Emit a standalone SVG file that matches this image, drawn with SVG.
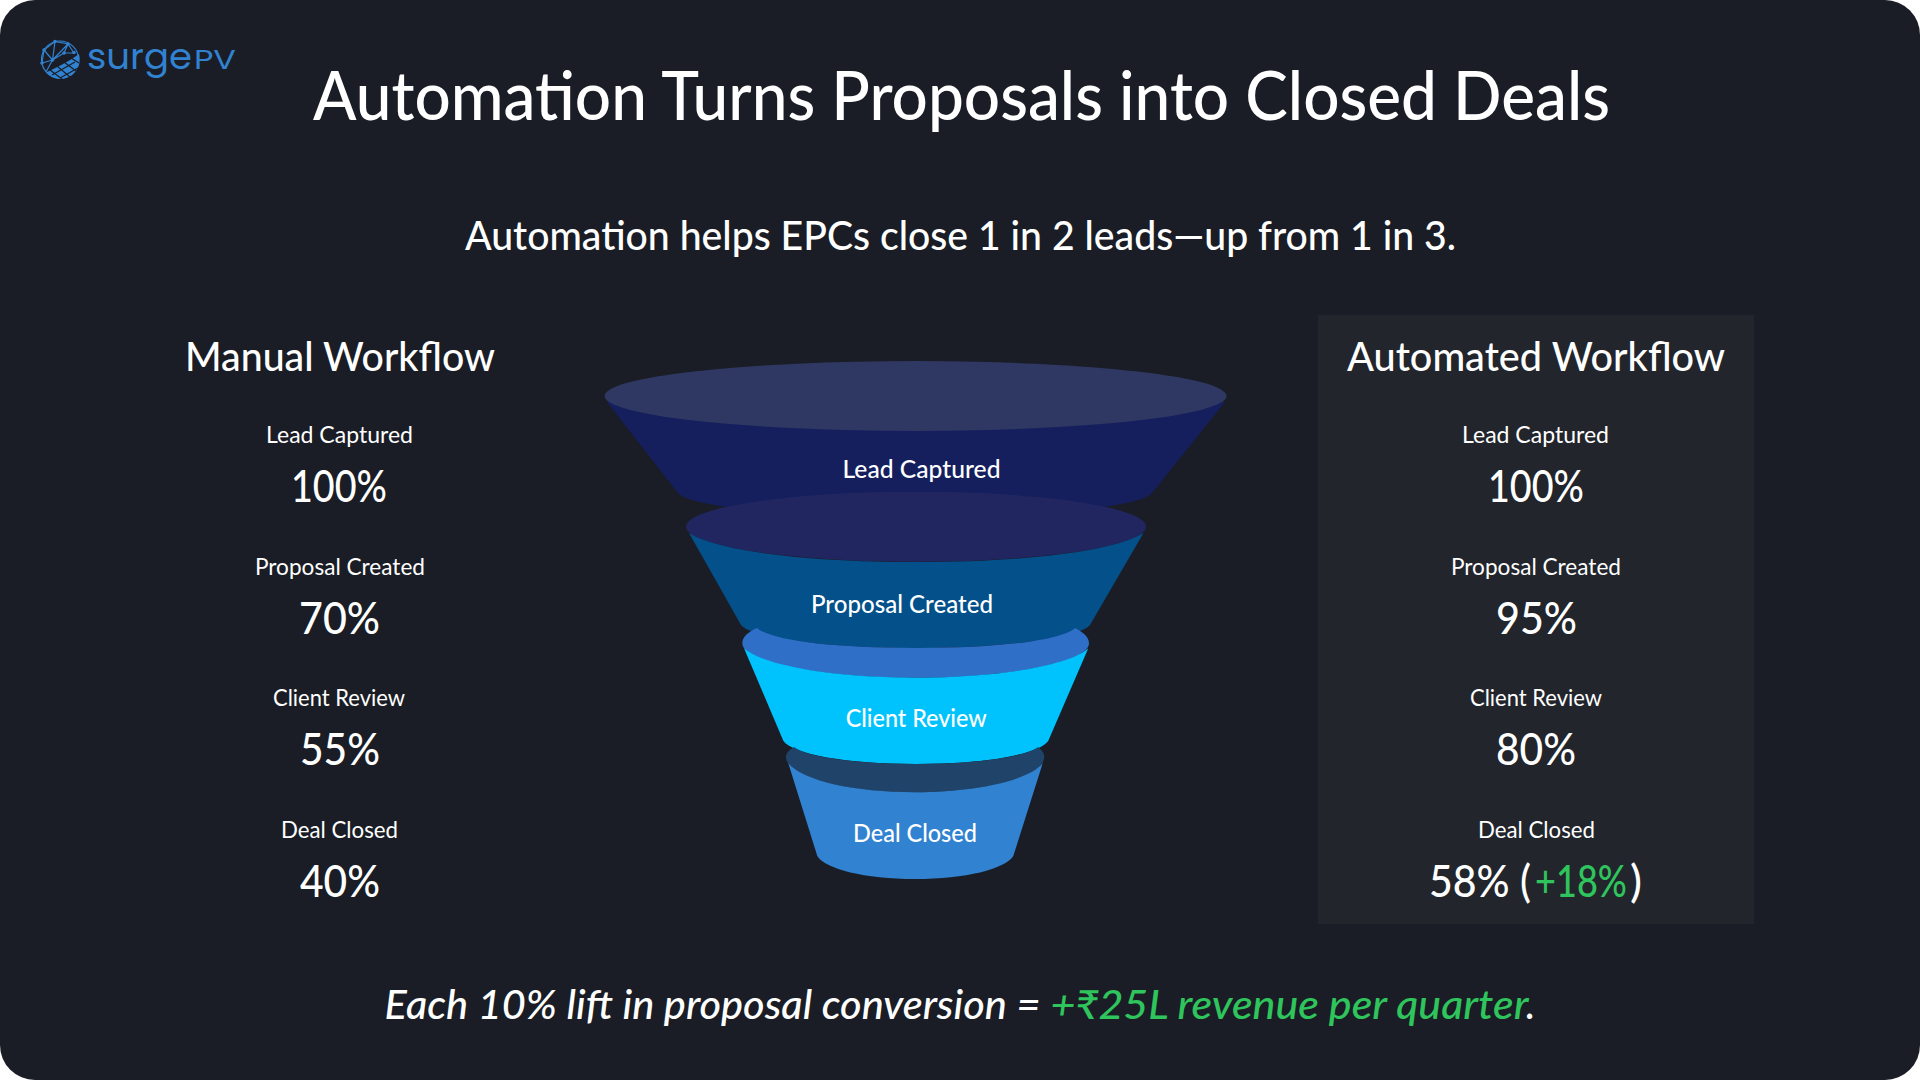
<svg xmlns="http://www.w3.org/2000/svg" width="1920" height="1080" viewBox="0 0 1920 1080">
<style>
text{font-family:"Lato","Liberation Sans",sans-serif;fill:#fff;text-anchor:start}
.title{font-size:68px;font-weight:500}
.sub{font-size:40px;font-weight:500}
.head{font-size:40px;font-weight:500}
.lab{font-size:23px}
.val{font-size:44px;font-weight:500}
.fl{font-size:24px;font-weight:500}
.foot{font-size:40px;font-style:italic;font-weight:500}
.g{fill:#2fc45c}
.logo{fill:#3182d0;font-family:"Poppins","Lato",sans-serif}
.ln{stroke:#3182d0;stroke-width:1.2;fill:none}
.nd{fill:#3182d0}
</style>
<rect width="1920" height="1080" fill="#fff"/>
<rect width="1920" height="1080" rx="35" fill="#1a1d25"/>

<g id="logo">
<circle class="ln" cx="60" cy="59.5" r="18.5"/>
<path class="ln" d="M44 50L55 41.500L68 44L74 53M44 50L52.500 60L55 41.500M52.500 60L68 44M52.500 60L42 63M52.500 60L64 53M68 44L64 53L74 53M44 50L42 63M52.500 60L46 72"/>
<circle class="nd" cx="44" cy="50" r="1.800"/><circle class="nd" cx="55" cy="41.500" r="1.800"/><circle class="nd" cx="68" cy="44" r="1.800"/><circle class="nd" cx="74" cy="52.500" r="1.800"/><circle class="nd" cx="52.500" cy="60" r="1.800"/><circle class="nd" cx="42" cy="63" r="1.800"/><circle class="nd" cx="64" cy="53" r="1.800"/>
<path class="nd" d="M79 54A19.500 19.500 0 0 1 60 79A19 19 0 0 1 46 72.500C56 68 68 62 79 54Z"/>
<path d="M50 70L62 79M57 66L70 77M64 62L76 71M71 58L79 63M52 75L75 62M60 78L78 68" stroke="#1a1d25" stroke-width="1.200" fill="none"/>
<text class="logo" x="87" y="69" font-size="35" textLength="105" lengthAdjust="spacingAndGlyphs">surge</text>
<text class="logo" x="194" y="69" font-size="27" textLength="42" lengthAdjust="spacingAndGlyphs">PV</text>
</g>

<text id="title" class="title" x="313" y="120" textLength="1297" lengthAdjust="spacingAndGlyphs">Automation Turns Proposals into Closed Deals</text>
<text id="subtitle" class="sub" x="465" y="250" textLength="991" lengthAdjust="spacingAndGlyphs">Automation helps EPCs close 1 in 2 leads—up from 1 in 3.</text>

<g id="manual">
<text class="head" x="185" y="371" textLength="310" lengthAdjust="spacingAndGlyphs">Manual Workflow</text>
<text class="lab" x="266" y="443" textLength="147" lengthAdjust="spacingAndGlyphs">Lead Captured</text>
<text class="val" x="291" y="502" textLength="96" lengthAdjust="spacingAndGlyphs">100%</text>
<text class="lab" x="255" y="575" textLength="170" lengthAdjust="spacingAndGlyphs">Proposal Created</text>
<text class="val" x="299" y="634" textLength="81" lengthAdjust="spacingAndGlyphs">70%</text>
<text class="lab" x="273" y="706" textLength="132" lengthAdjust="spacingAndGlyphs">Client Review</text>
<text class="val" x="300" y="765" textLength="80" lengthAdjust="spacingAndGlyphs">55%</text>
<text class="lab" x="281" y="838" textLength="117" lengthAdjust="spacingAndGlyphs">Deal Closed</text>
<text class="val" x="300" y="897" textLength="80" lengthAdjust="spacingAndGlyphs">40%</text>
</g>

<g id="funnel">
<g id="stage-lead">
<path d="M607 402L678 493C690 507 790 517 916 517C1042 517 1140 507 1152 493L1225 402Z" fill="#151f5e"/>
<ellipse cx="915.500" cy="396" rx="311" ry="35" fill="#2f3763"/>
<text class="fl" x="842.500" y="478" textLength="158" lengthAdjust="spacingAndGlyphs">Lead Captured</text>
</g>
<g id="stage-proposal" >
<ellipse cx="916" cy="526.700" rx="230" ry="35" fill="#212660"/>
<path d="M689 533C720 552 810 562 916 562C1022 562 1112 552 1143.500 533L1090 625C1080 637 1010 648 916 648C822 648 750 637 741 625Z" fill="#03508a"/>
<text class="fl" x="811" y="613" textLength="182" lengthAdjust="spacingAndGlyphs">Proposal Created</text>
</g>
<g id="stage-review">
<path d="M757 628C770 640 830 648 916 648C1002 648 1062 640 1075 628C1083 632 1089 637 1089 643.300C1089 662 1012 677.700 915.700 677.700C819 677.700 742.300 662 742.300 643.300C742.300 637 748 632 757 628Z" fill="#2f6fc8"/>
<path d="M744 648.300C762 665 830 677.700 916 677.700C1002 677.700 1070 665 1088.300 648.300L1048.300 740.700C1040 754 985 764 916 764C847 764 792 754 783.300 740.700Z" fill="#00c3fd"/>
<text class="fl" x="845.700" y="726.700" textLength="141" lengthAdjust="spacingAndGlyphs">Client Review</text>
</g>
<g id="stage-deal">
<path d="M794 747C806 757 855 764 916 764C977 764 1026 757 1038 747C1042 750 1044.300 753 1044.300 757C1044.300 777 987 792.300 915 792.300C843 792.300 786 777 786 757C786 753 789 750 794 747Z" fill="#204369"/>
<path d="M788.300 763.300C803 781 855 792.300 915 792.300C975 792.300 1028 781 1042.700 763.300L1013.300 856C1005 869 966 879 915 879C865 879 825 869 817.300 856Z" fill="#3182d0"/>
<text class="fl" x="853" y="841.700" textLength="124" lengthAdjust="spacingAndGlyphs">Deal Closed</text>
</g>
</g>

<g id="automated">
<rect x="1318" y="315" width="436" height="609" fill="#22252c"/>
<text class="head" x="1347" y="371" textLength="378" lengthAdjust="spacingAndGlyphs">Automated Workflow</text>
<text class="lab" x="1462" y="443" textLength="147" lengthAdjust="spacingAndGlyphs">Lead Captured</text>
<text class="val" x="1488" y="502" textLength="96" lengthAdjust="spacingAndGlyphs">100%</text>
<text class="lab" x="1451" y="575" textLength="170" lengthAdjust="spacingAndGlyphs">Proposal Created</text>
<text class="val" x="1496" y="634" textLength="81" lengthAdjust="spacingAndGlyphs">95%</text>
<text class="lab" x="1470" y="706" textLength="132" lengthAdjust="spacingAndGlyphs">Client Review</text>
<text class="val" x="1496" y="765" textLength="80" lengthAdjust="spacingAndGlyphs">80%</text>
<text class="lab" x="1478" y="838" textLength="117" lengthAdjust="spacingAndGlyphs">Deal Closed</text>
<text class="val" x="1429" y="897" textLength="102" lengthAdjust="spacingAndGlyphs">58% (</text>
<text class="val g" x="1535" y="897" textLength="92" lengthAdjust="spacingAndGlyphs">+18%</text>
<text class="val" x="1630" y="897" textLength="12" lengthAdjust="spacingAndGlyphs">)</text>
</g>

<g id="footer">
<text class="foot" x="384.500" y="1019" textLength="656" lengthAdjust="spacingAndGlyphs">Each 10% lift in proposal conversion =</text>
<text class="foot g" x="1050.500" y="1019" textLength="478" lengthAdjust="spacingAndGlyphs">+₹25L revenue per quarter</text>
<text class="foot" x="1526" y="1019">.</text>
</g>
</svg>
